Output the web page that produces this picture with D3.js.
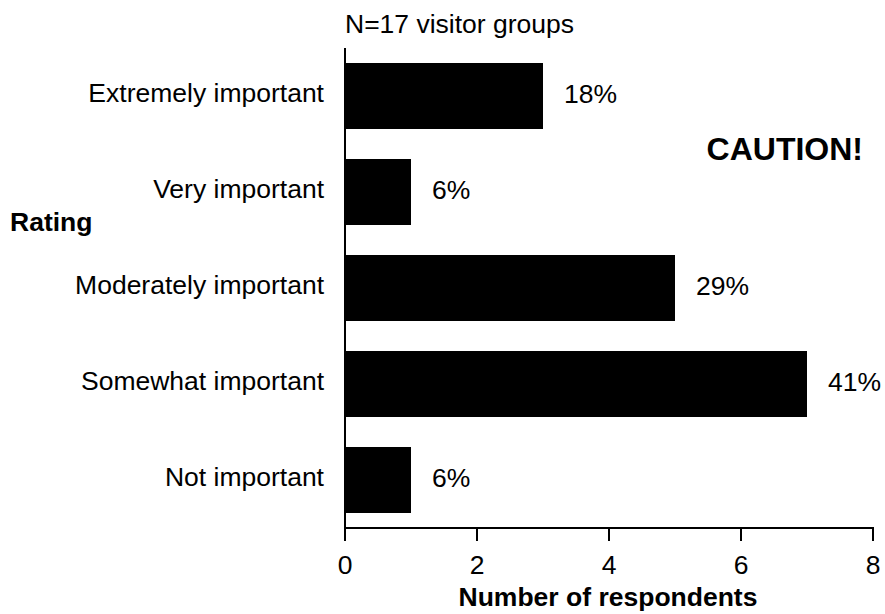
<!DOCTYPE html>
<html><head><meta charset="utf-8">
<script src="https://cdn.jsdelivr.net/npm/d3@7"></script>
<style>body{margin:0;background:#fff}svg{display:block}text{font-family:"Liberation Sans",Arial,Helvetica,sans-serif;fill:#000}</style>
</head><body><svg id="c" width="885" height="614"></svg>
<script>
const categories = ["Extremely important","Very important","Moderately important","Somewhat important","Not important"];
const counts = [3,1,5,7,1];
const percentLabels = ["18%","6%","29%","41%","6%"];
const xTicks = [0,2,4,6,8];

const svg = d3.select("#c");
const FS = 26.5;
const x = d3.scaleLinear().domain([0,8]).range([345,873]);
const y = d3.scaleBand().domain(categories).range([48,528]).paddingInner(0.3125).paddingOuter(0.15625);

svg.selectAll("rect.bar").data(categories).join("rect")
  .attr("x", x(0)).attr("y", d=>y(d))
  .attr("width", (d,i)=>x(counts[i])-x(0)).attr("height", y.bandwidth())
  .attr("fill","#000");

svg.selectAll("text.val").data(categories).join("text")
  .attr("x",(d,i)=>x(counts[i])+21).attr("y",d=>y(d)+y.bandwidth()/2-2)
  .attr("dy","0.35em").attr("font-size",FS).text((d,i)=>percentLabels[i]);

svg.selectAll("text.cat").data(categories).join("text")
  .attr("x",324).attr("y",d=>y(d)+y.bandwidth()/2-3)
  .attr("dy","0.35em").attr("text-anchor","end").attr("font-size",FS).text(d=>d);

// axes
svg.append("line").attr("x1",x(0)).attr("x2",x(0)).attr("y1",48).attr("y2",529).attr("stroke","#000").attr("stroke-width",2);
svg.append("line").attr("x1",x(0)-1).attr("x2",x(8)+1).attr("y1",528).attr("y2",528).attr("stroke","#000").attr("stroke-width",2);
svg.selectAll("line.tick").data(xTicks).join("line")
  .attr("x1",d=>x(d)).attr("x2",d=>x(d)).attr("y1",528).attr("y2",541).attr("stroke","#000").attr("stroke-width",2);
svg.selectAll("text.tick").data(xTicks).join("text")
  .attr("x",d=>x(d)).attr("y",565).attr("dy","0.35em").attr("text-anchor","middle").attr("font-size",FS).text(d=>d);

svg.append("text").attr("x",608).attr("y",597).attr("dy","0.35em").attr("text-anchor","middle")
  .attr("font-size",FS).attr("font-weight","bold").text("Number of respondents");
svg.append("text").attr("x",10).attr("y",222).attr("dy","0.35em")
  .attr("font-size",FS).attr("font-weight","bold").text("Rating");
svg.append("text").attr("x",345).attr("y",24).attr("dy","0.35em")
  .attr("font-size",FS).text("N=17 visitor groups");
svg.append("text").attr("x",863).attr("y",149).attr("dy","0.35em").attr("text-anchor","end")
  .attr("font-size",32).attr("font-weight","bold").text("CAUTION!");
</script></body></html>
